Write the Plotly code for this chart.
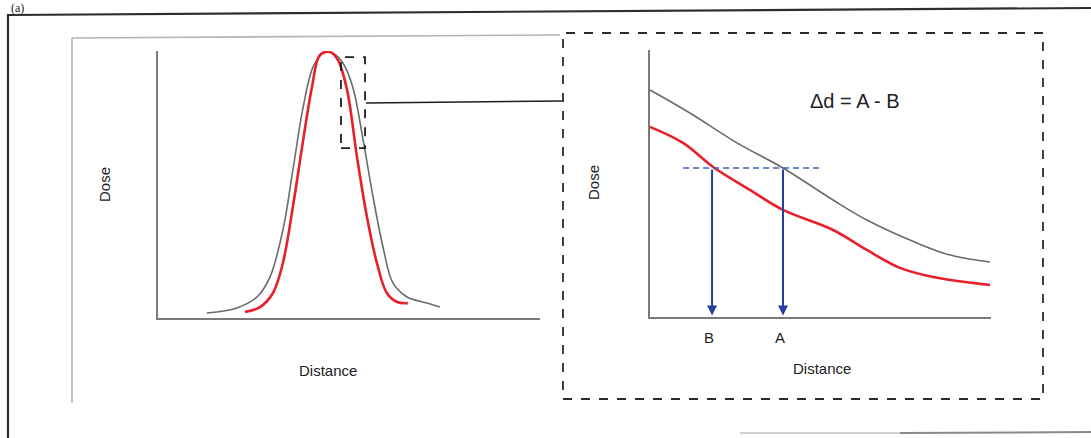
import plotly.graph_objects as go

W, H = 1091, 438

# Full profile (left panel): distance / dose in arbitrary units
profile_gray_x = [12.8, 20.7, 25.9, 29.3, 32.7, 35.3, 38.0, 40.6, 43.2, 45.8, 48.4, 51.0, 53.7, 56.3, 58.9, 61.5, 65.2, 70.4, 73.8]
profile_gray_y = [1.9, 3.8, 7.9, 15.4, 33.1, 55.6, 79.3, 94.4, 99.6, 99.6, 95.9, 86.8, 66.9, 45.5, 26.7, 13.2, 7.9, 5.6, 4.1]
profile_red_x = [22.8, 26.7, 30.1, 32.7, 35.3, 38.0, 40.3, 42.4, 45.0, 47.1, 49.5, 52.1, 54.7, 57.3, 59.9, 62.6, 65.4]
profile_red_y = [2.3, 4.1, 9.4, 20.7, 41.7, 66.9, 86.8, 98.9, 100.0, 97.0, 85.7, 60.5, 38.0, 20.7, 9.4, 6.0, 5.6]

# Zoomed penumbra (right panel)
zoom_gray_x = [0, 11.7, 25.5, 39.0, 53.7, 63.6, 78.3, 88.0, 99.7]
zoom_gray_y = [85.0, 76.4, 65.2, 55.8, 43.8, 36.3, 27.7, 23.2, 20.6]
zoom_red_x = [0, 9.7, 18.5, 29.3, 39.0, 53.7, 63.6, 73.3, 83.0, 99.7]
zoom_red_y = [71.2, 65.2, 56.2, 47.6, 40.1, 32.6, 25.1, 18.4, 15.0, 12.0]

# Iso-dose level and the two distances read from it
iso_level = 55.8
iso_span = [9.7, 50.4]
pos_labels = ["B", "A"]
pos_values = [18.2, 39.0]


def px(x):
    return x / W


def py(y):
    return 1 - y / H


GRAY = "#6b6b6b"
RED = "#e8202a"
BLUE_ARROW = "#2340a0"
BLUE_DASH = "#3d5cc0"
FONT = "Liberation Sans, Arial, sans-serif"

fig = go.Figure()

fig.add_trace(go.Scatter(x=profile_gray_x, y=profile_gray_y, mode="lines",
                         line=dict(color=GRAY, width=1.6, shape="spline"),
                         xaxis="x", yaxis="y", showlegend=False, hoverinfo="skip"))
fig.add_trace(go.Scatter(x=profile_red_x, y=profile_red_y, mode="lines",
                         line=dict(color=RED, width=2.6, shape="spline"),
                         xaxis="x", yaxis="y", showlegend=False, hoverinfo="skip"))

fig.add_trace(go.Scatter(x=zoom_gray_x, y=zoom_gray_y, mode="lines",
                         line=dict(color=GRAY, width=1.6, shape="spline"),
                         xaxis="x2", yaxis="y2", showlegend=False, hoverinfo="skip"))
fig.add_trace(go.Scatter(x=zoom_red_x, y=zoom_red_y, mode="lines",
                         line=dict(color=RED, width=2.6, shape="spline"),
                         xaxis="x2", yaxis="y2", showlegend=False, hoverinfo="skip"))
fig.add_trace(go.Scatter(x=iso_span, y=[iso_level, iso_level], mode="lines",
                         line=dict(color=BLUE_DASH, width=1.6, dash="6px,4px"),
                         xaxis="x2", yaxis="y2", showlegend=False, hoverinfo="skip"))

axis_common = dict(showgrid=False, zeroline=False, showticklabels=False, ticks="",
                   showline=True, linecolor="#7a7a7a", linewidth=1.5, fixedrange=True)

fig.update_layout(
    width=W, height=H,
    margin=dict(l=0, r=0, t=0, b=0),
    paper_bgcolor="white", plot_bgcolor="rgba(0,0,0,0)",
    xaxis=dict(domain=[px(158), px(540)], range=[0, 100], anchor="y", **axis_common),
    yaxis=dict(domain=[py(318), py(51)], range=[0, 100.4], anchor="x", **axis_common),
    xaxis2=dict(domain=[px(650), px(991)], range=[0, 100], anchor="y2", **axis_common),
    yaxis2=dict(domain=[py(317), py(50)], range=[0, 100], anchor="x2", **axis_common),
)

shapes = []
# outer frame (slightly skewed edge)
shapes.append(dict(type="line", xref="paper", yref="paper", x0=px(8), y0=py(15), x1=px(1091), y1=py(8),
                   line=dict(color="#2e2e2e", width=2.2)))
shapes.append(dict(type="line", xref="paper", yref="paper", x0=px(8), y0=py(14), x1=px(8), y1=py(438),
                   line=dict(color="#2e2e2e", width=2.2)))
shapes.append(dict(type="line", xref="paper", yref="paper", x0=px(740), y0=py(433), x1=px(900), y1=py(433),
                   line=dict(color="#d0d0d0", width=2)))
shapes.append(dict(type="line", xref="paper", yref="paper", x0=px(900), y0=py(433), x1=px(1091), y1=py(432),
                   line=dict(color="#8a8a8a", width=2)))
# inner light frame
shapes.append(dict(type="line", xref="paper", yref="paper", x0=px(72), y0=py(38), x1=px(560), y1=py(35),
                   line=dict(color="#b5b5b5", width=1.6)))
shapes.append(dict(type="line", xref="paper", yref="paper", x0=px(72), y0=py(38), x1=px(72), y1=py(403),
                   line=dict(color="#b5b5b5", width=1.6)))
# zoom window on the profile shoulder
shapes.append(dict(type="rect", xref="x", yref="y", x0=47.9, y0=63.9, x1=54.2, y1=98.1,
                   line=dict(color="#1e1e1e", width=1.8, dash="dash")))
# connector to the enlarged view
shapes.append(dict(type="line", xref="paper", yref="paper", x0=px(366), y0=py(103), x1=px(562), y1=py(101),
                   line=dict(color="#1e1e1e", width=1.6)))
# enlarged view frame
shapes.append(dict(type="rect", xref="paper", yref="paper", x0=px(563), y0=py(399), x1=px(1043), y1=py(33),
                   line=dict(color="#2a2a2a", width=1.8, dash="dash")))
fig.update_layout(shapes=shapes)

annotations = []
# arrows down from the iso-dose level
for lab, xv in zip(pos_labels, pos_values):
    annotations.append(dict(xref="x2", yref="y2", axref="x2", ayref="y2",
                            x=xv, y=0.6, ax=xv, ay=iso_level, text="", showarrow=True,
                            arrowhead=2, arrowsize=1.0, arrowwidth=2, arrowcolor=BLUE_ARROW))
    annotations.append(dict(xref="x2", yref="paper", x=xv - 1.0, y=py(337), text=lab, showarrow=False,
                            xanchor="center", yanchor="middle",
                            font=dict(family=FONT, size=15, color="#222")))

texts = [
    ("Dose", 104, 185, 15, -90),
    ("Distance", 328, 370, 15, 0),
    ("Dose", 593, 183, 15, -90),
    ("Distance", 822, 368, 15, 0),
    ("\u0394d = A - B", 855, 101, 20, 0),
]
for t, x, y, s, ang in texts:
    annotations.append(dict(xref="paper", yref="paper", x=px(x), y=py(y), text=t, showarrow=False,
                            textangle=ang, xanchor="center", yanchor="middle",
                            font=dict(family=FONT, size=s, color="#222")))

annotations.append(dict(xref="paper", yref="paper", x=px(10), y=1.0, text="(a)", showarrow=False,
                        xanchor="left", yanchor="top", borderpad=0,
                        font=dict(family="Liberation Serif, Times New Roman, serif", size=12, color="#222")))
fig.update_layout(annotations=annotations)

fig.write_html("out.html")
